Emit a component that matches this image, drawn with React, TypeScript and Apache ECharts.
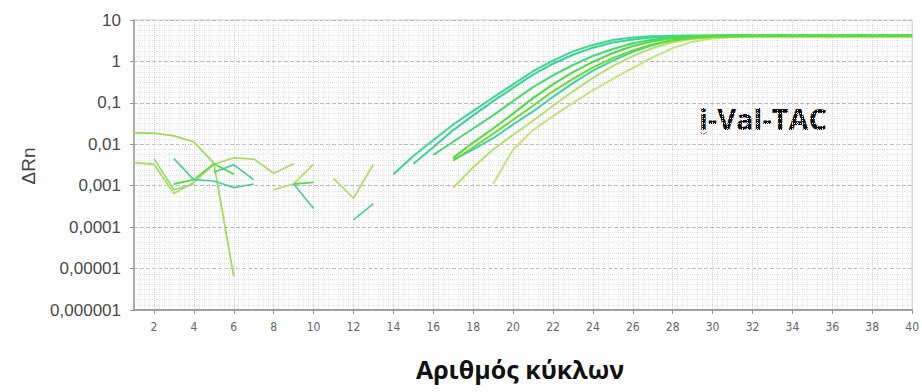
import React, { useEffect, useRef } from "react";
import * as echarts from "echarts";

// x-axis tick labels (cycle numbers)
const cycleTicks = [2, 4, 6, 8, 10, 12, 14, 16, 18, 20, 22, 24, 26, 28, 30, 32, 34, 36, 38, 40];

// amplification curves: first cycle + ΔRn per cycle
const amp1Start = 14;
const amp1 = [0.0019, 0.0052, 0.0125, 0.03, 0.064, 0.135, 0.28, 0.58, 1.05, 1.75, 2.5, 3.3, 3.8, 4.05, 4.18, 4.23,
  4.25, 4.25, 4.25, 4.25, 4.25, 4.25, 4.25, 4.25, 4.25, 4.25, 4.25];
const amp2Start = 15;
const amp2 = [0.0034, 0.0085, 0.022, 0.05, 0.11, 0.23, 0.48, 0.88, 1.45, 2.15, 2.85, 3.4, 3.8, 4.02, 4.12,
  4.15, 4.15, 4.15, 4.15, 4.15, 4.15, 4.15, 4.15, 4.15, 4.15, 4.15];
const amp3Start = 16;
const amp3 = [0.0055, 0.0115, 0.024, 0.05, 0.11, 0.24, 0.46, 0.82, 1.35, 2.0, 2.75, 3.35, 3.8, 4.05, 4.17,
  4.2, 4.2, 4.2, 4.2, 4.2, 4.2, 4.2, 4.2, 4.2, 4.2];
const amp4Start = 17;
const amp4 = [0.0047, 0.011, 0.024, 0.055, 0.13, 0.28, 0.55, 0.98, 1.6, 2.35, 3.05, 3.6, 3.92, 4.06,
  4.1, 4.1, 4.1, 4.1, 4.1, 4.1, 4.1, 4.1, 4.1, 4.1];
const amp5Start = 17;
const amp5 = [0.004, 0.0085, 0.018, 0.039, 0.085, 0.19, 0.38, 0.72, 1.2, 1.85, 2.6, 3.25, 3.7, 3.93, 4.02,
  4.05, 4.05, 4.05, 4.05, 4.05, 4.05, 4.05, 4.05, 4.05];
const amp6Start = 17;
const amp6 = [0.0009, 0.0028, 0.0075, 0.017, 0.037, 0.085, 0.19, 0.4, 0.78, 1.35, 2.1, 2.9, 3.5, 3.85, 3.97,
  4.0, 4.0, 4.0, 4.0, 4.0, 4.0, 4.0, 4.0, 4.0];
const amp7Start = 19;
const amp7 = [0.0011, 0.0075, 0.022, 0.048, 0.1, 0.2, 0.38, 0.7, 1.25, 2.1, 3.0, 3.6, 3.85, 3.93,
  3.95, 3.95, 3.95, 3.95, 3.95, 3.95, 3.95, 3.95];
const amp8Start = 17;
const amp8 = [0.0042, 0.0075, 0.014, 0.03, 0.062, 0.14, 0.3, 0.6, 1.05, 1.7, 2.5, 3.25, 3.8, 4.15, 4.27,
  4.3, 4.3, 4.3, 4.3, 4.3, 4.3, 4.3, 4.3, 4.3];

// baseline fragments (noise before amplification)
const base1Start = 1;
const base1 = [0.019, 0.0185, 0.016, 0.0115, 0.0035, 0.0000065];
const base2Start = 1;
const base2 = [0.0036, 0.0033, 0.00065, 0.0012, 0.0033, 0.0047, 0.0044, 0.002, 0.0034];
const base3Start = 3;
const base3 = [0.0011, 0.0014, 0.0034, 0.0019];
const base4Start = 3;
const base4 = [0.0045, 0.0014, 0.0013, 0.0009, 0.0011];
const base5Start = 5;
const base5 = [0.0021, 0.0032, 0.0014];
const base6Start = 2;
const base6 = [0.0045, 0.0008, 0.0011];
const base7Start = 8;
const base7 = [0.0008, 0.0011, 0.0033];
const base8Start = 9;
const base8 = [0.0011, 0.0012];
const base9Start = 9;
const base9 = [0.0011, 0.00028];
const base10Start = 11;
const base10 = [0.0015, 0.0005, 0.0033];
const base11Start = 12;
const base11 = [0.00015, 0.00037];

function fmtY(v: number): string {
  if (v >= 1) return String(Math.round(v));
  const d = Math.round(-Math.log10(v));
  return v.toFixed(d).replace(".", ",");
}

export default function App() {
  const ref = useRef<HTMLDivElement>(null);
  useEffect(() => {
    if (!ref.current) return;
    const chart = echarts.init(ref.current, undefined, { renderer: "svg" });
    const mk = (start: number, vals: number[], color: string, width: number) => ({
      type: "line",
      data: vals.map((v, i) => [start + i, v]),
      showSymbol: false,
      symbol: "none",
      silent: true,
      lineStyle: { color, width },
    });
    const series = [
      mk(base1Start, base1, "#a2dc5e", 1.8),
      mk(base2Start, base2, "#a8dd66", 1.8),
      mk(base6Start, base6, "#93dc6c", 1.6),
      mk(base3Start, base3, "#5bdc46", 1.8),
      mk(base4Start, base4, "#48cfa0", 1.6),
      mk(base5Start, base5, "#3fcf94", 1.6),
      mk(base7Start, base7, "#b5df6a", 1.8),
      mk(base8Start, base8, "#58dc4a", 1.8),
      mk(base9Start, base9, "#48cfa0", 1.6),
      mk(base10Start, base10, "#b2de6e", 1.8),
      mk(base11Start, base11, "#48d0a0", 1.6),
      mk(amp7Start, amp7, "#c2e57e", 2),
      mk(amp6Start, amp6, "#b3e26c", 2),
      mk(amp8Start, amp8, "#3fd3a4", 2),
      mk(amp2Start, amp2, "#35d49a", 2),
      mk(amp1Start, amp1, "#3cd98a", 2),
      mk(amp3Start, amp3, "#44da72", 2),
      mk(amp4Start, amp4, "#4ddc44", 2),
      mk(amp5Start, amp5, "#66dd2a", 2),
    ];
    chart.setOption({
      animation: false,
      grid: { left: 134, right: 7, top: 20, bottom: 82, show: true, borderColor: "#cccccc", borderWidth: 1 },
      xAxis: {
        type: "value",
        min: 1,
        max: 40,
        interval: 1,
        axisLine: { show: true, onZero: false, lineStyle: { color: "#a0a0a0", width: 2 } },
        axisTick: { show: true, customValues: cycleTicks, length: 4, lineStyle: { color: "#999" } },
        axisLabel: {
          customValues: cycleTicks,
          color: "#666",
          fontSize: 12,
          fontFamily: "'Liberation Sans Narrow', 'DejaVu Sans Condensed', sans-serif",
          margin: 11,
        },
        splitLine: { show: true, lineStyle: { color: "#d2d2d2", type: "dotted", width: 1 } },
        minorTick: { show: false, splitNumber: 4 },
        minorSplitLine: { show: true, lineStyle: { color: "#e6e6e6", type: "dotted", width: 1 } },
      },
      yAxis: [
        {
          type: "log",
          logBase: 10,
          min: 0.000001,
          max: 10,
          axisLine: { show: true, lineStyle: { color: "#9a9a9a", width: 1.5 } },
          axisTick: { show: true, length: 4, lineStyle: { color: "#999" } },
          axisLabel: {
            formatter: fmtY,
            color: "#4a4a4a",
            fontSize: 17,
            fontFamily: "'Liberation Sans', Arial, sans-serif",
            margin: 13,
          },
          splitLine: { show: true, lineStyle: { color: "#bdbdbd", type: "dashed", width: 1 } },
        },
        {
          type: "value",
          min: -6,
          max: 1,
          interval: 1,
          position: "left",
          axisLine: { show: false },
          axisTick: { show: false },
          axisLabel: { show: false },
          splitLine: { show: false },
          minorTick: { show: false, splitNumber: 8 },
          minorSplitLine: { show: true, lineStyle: { color: "#e4e4e4", type: "dotted", width: 1 } },
        },
      ],
      series,
      graphic: [
        {
          type: "text",
          x: 28,
          y: 166,
          rotation: Math.PI / 2,
          style: {
            text: "ΔRn",
            font: "19px 'Liberation Sans', Arial, sans-serif",
            fill: "#444",
            align: "center",
            verticalAlign: "middle",
            textAlign: "center",
            textVerticalAlign: "middle",
          },
        },
        {
          type: "text",
          x: 699,
          y: 118,
          style: {
            text: "i-Val-TAC",
            font: "bold 29px 'Open Sans', sans-serif",
            fill: "#111",
            align: "left",
            verticalAlign: "middle",
            textAlign: "left",
            textVerticalAlign: "middle",
          },
        },
        {
          type: "polyline",
          shape: { points: [[700, 132], [703, 134.5], [707, 132]] },
          style: { stroke: "#e05050", lineWidth: 1, fill: null },
        },
        {
          type: "text",
          x: 520,
          y: 369,
          style: {
            text: "Αριθμός κύκλων",
            font: "bold 25px 'Open Sans', sans-serif",
            fill: "#111",
            align: "center",
            verticalAlign: "middle",
            textAlign: "center",
            textVerticalAlign: "middle",
          },
        },
      ],
    });
    return () => chart.dispose();
  }, []);
  return (
    <div
      ref={ref}
      style={{ position: "fixed", left: 0, top: 0, width: 922, height: 392, background: "#fff" }}
    />
  );
}
